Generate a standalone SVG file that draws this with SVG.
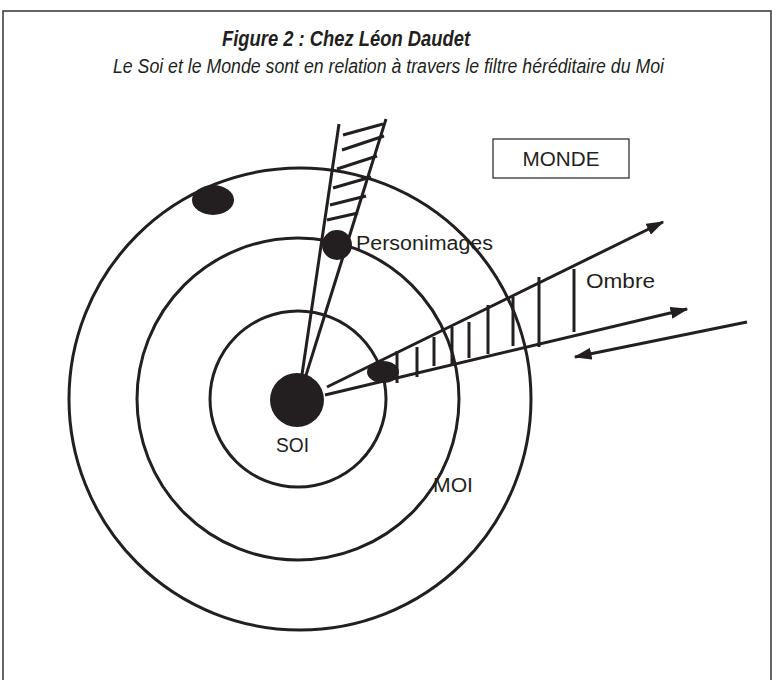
<svg xmlns="http://www.w3.org/2000/svg" width="776" height="680" viewBox="0 0 776 680">
<style>
.ln{stroke:#231f20;stroke-width:3;fill:none;stroke-linecap:butt}
.ring{stroke:#231f20;stroke-width:3;fill:none}
.dot{fill:#231f20}
.lbl{font-family:"Liberation Sans",Arial,sans-serif;font-size:20px;fill:#231f20}
.ttl{font-family:"Liberation Sans",Arial,sans-serif;fill:#231f20;font-style:italic}
</style>
<defs>
<marker id="ah" viewBox="0 0 12 8" refX="11" refY="4" markerWidth="6" markerHeight="4" markerUnits="strokeWidth" orient="auto">
<path d="M0,0 L12,4 L0,8 z" fill="#231f20"/>
</marker>
</defs>
<rect x="3" y="11" width="768" height="700" fill="none" stroke="#333" stroke-width="1.5"/>
<g id="title">
<text class="ttl" x="222" y="46" font-size="22" font-weight="bold" textLength="248" lengthAdjust="spacingAndGlyphs">Figure 2 :  Chez Léon Daudet</text>
<text class="ttl" x="113" y="73" font-size="20" textLength="551" lengthAdjust="spacingAndGlyphs">Le Soi et le Monde sont en relation à travers le filtre héréditaire du Moi</text>
</g>
<g id="rings">
<circle class="ring" cx="300" cy="399" r="231"/>
<circle class="ring" cx="298" cy="399" r="161"/>
<circle class="ring" cx="298" cy="399" r="88"/>
</g>
<g id="connectors">
<line class="ln" x1="300" y1="388" x2="339" y2="124"/>
<line class="ln" x1="302" y1="388" x2="386" y2="119"/>
<line class="ln" x1="343" y1="135" x2="383" y2="124"/>
<line class="ln" x1="342" y1="150" x2="384" y2="136"/>
<line class="ln" x1="337" y1="169" x2="377" y2="156"/>
<line class="ln" x1="333" y1="188" x2="371" y2="177"/>
<line class="ln" x1="330" y1="205" x2="366" y2="196"/>
<line class="ln" x1="327" y1="220" x2="358" y2="213"/>
<line class="ln" x1="327" y1="387" x2="663" y2="222" marker-end="url(#ah)"/>
<line class="ln" x1="325" y1="395" x2="687" y2="309" marker-end="url(#ah)"/>
<line class="ln" x1="747" y1="322" x2="575" y2="357" marker-end="url(#ah)"/>
<line class="ln" x1="397" y1="351" x2="397" y2="383"/>
<line class="ln" x1="417" y1="347" x2="417" y2="377"/>
<line class="ln" x1="434" y1="337" x2="434" y2="366"/>
<line class="ln" x1="452" y1="327" x2="452" y2="365"/>
<line class="ln" x1="469" y1="322" x2="469" y2="358"/>
<line class="ln" x1="488" y1="305" x2="488" y2="354"/>
<line class="ln" x1="513" y1="297" x2="513" y2="346"/>
<line class="ln" x1="539" y1="277" x2="539" y2="347"/>
<line class="ln" x1="574" y1="269" x2="574" y2="332"/>
</g>
<g id="soi">
<circle class="dot" cx="297" cy="400" r="27"/>
<text class="lbl" x="276" y="452" textLength="33" lengthAdjust="spacingAndGlyphs">SOI</text>
</g>
<g id="moi">
<text class="lbl" x="433" y="492" textLength="40" lengthAdjust="spacingAndGlyphs">MOI</text>
</g>
<g id="outer-dot">
<ellipse class="dot" cx="213" cy="200" rx="21" ry="15"/>
</g>
<g id="personimages">
<circle class="dot" cx="337" cy="245" r="15"/>
<text class="lbl" x="356" y="250" textLength="137" lengthAdjust="spacingAndGlyphs">Personimages</text>
</g>
<g id="small-dot">
<ellipse class="dot" cx="383" cy="372" rx="16" ry="11"/>
</g>
<g id="ombre">
<text class="lbl" x="586" y="288" textLength="69" lengthAdjust="spacingAndGlyphs">Ombre</text>
</g>
<g id="monde">
<rect x="493" y="139" width="136" height="39" fill="#fff" stroke="#231f20" stroke-width="1.2"/>
<text class="lbl" x="561" y="166" text-anchor="middle" textLength="77" lengthAdjust="spacingAndGlyphs">MONDE</text>
</g>
</svg>
